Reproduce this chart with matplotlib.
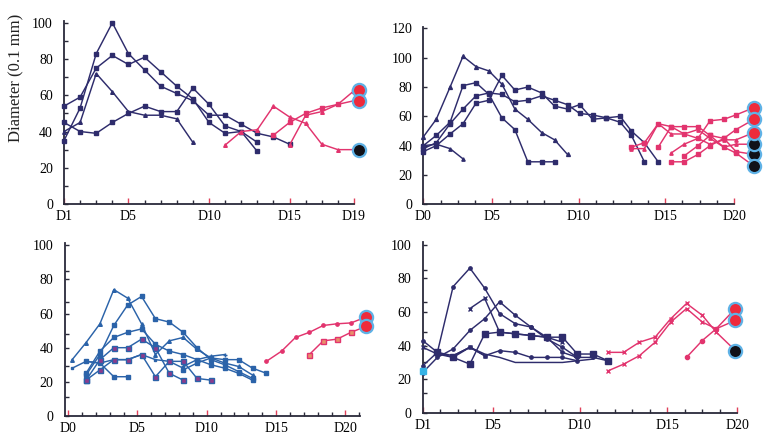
import matplotlib
matplotlib.use("Agg")
import matplotlib.pyplot as plt
from matplotlib.ticker import FixedLocator

plt.rcParams['font.family'] = ['Liberation Serif', 'DejaVu Serif']

NAVY = '#2e2c6c'
BLUE = '#2b63a9'
PINK = '#e2346e'
PURPLE = '#8c3b8c'
REDDOT = '#ee2a3c'
BLACKDOT = '#111118'
RING = '#5fb2e6'
CYAN = '#35b3e6'
AXC = '#2a2a3a'

# ---------------- panel 1 (top left) : x = day, D1..D19
p1_days = [1, 2, 3, 4, 5, 6, 7, 8, 9, 10, 11, 12, 13, 14, 15]
p1_sq = [35, 53, 83, 100, 83, 74, 65, 61, 57, 49, 49, 44, 39, 37, 33]
p1_82 = [54, 59, 75, 82, 77, 81, 73, 65, 58, 45, 39, 40, 29]
p1_72 = [40, 45, 72, 62, 51, 49, 49, 47, 34]
p1_low = [45, 40, 39, 45, 50, 54, 51, 51, 64, 55, 43, 40, 34]
p1_r1_days = [11, 12, 13, 14, 15, 16, 17, 18, 19]
p1_r1 = [32.5, 40, 41, 54, 48, 44.5, 33, 30, 30]
p1_r2_days = [14, 15, 16, 17, 18, 19]
p1_r2 = [38, 45, 50, 53, 55, 62.5]
p1_r3_days = [15, 16, 17, 18, 19]
p1_r3 = [32.5, 49, 51, 55, 57]
p1_dot_x = 19.3
p1_dots = [63, 57, 30]
p1_dot_col = [REDDOT, REDDOT, BLACKDOT]

# ---------------- panel 2 (top right) : x = axis tick units
p2_x = [0, 0.75, 1.55, 2.3, 3.05, 3.8, 4.55, 5.3, 6.05, 6.85, 7.6, 8.35,
        9.05, 9.8, 10.6, 11.4, 12.05, 12.8, 13.6]
p2_n1 = [46, 58, 80, 101, 94, 91, 82, 65, 58, 49, 44, 34]
p2_n2 = [40, 47, 56, 81, 83, 75, 59, 51, 29, 29, 29]
p2_n3 = [36, 40, 48, 55, 69, 71, 88, 78, 80, 76, 67, 65, 68, 58, 59, 56, 47, 29]
p2_n4 = [38, 42, 55, 65, 74, 76, 75, 70, 71, 74, 71, 68, 62, 61, 59, 60, 50, 42, 29]
p2_n5 = [40, 41, 38, 31]
p2_rx = [12.05, 12.8, 13.6, 14.35, 15.1, 15.9, 16.6, 17.4, 18.1]
p2_dot_x = 19.15
p2_r1 = [39, 42, 55, 53, 53, 53, 47, 45, 36]
p2_r2 = [38, 38, 55, 48, 48, 51, 45, 39, 41]
p2_r3 = [39, 53, 48, 45, 57, 58, 61]
p2_r4 = [29, 29, 34, 40, 45, 51]
p2_r5 = [35, 41, 45, 41, 44, 44]
p2_r6 = [33, 40, 47, 39, 35]
p2_dots = [34, 41, 66, 58, 49, 26]
p2_dot_col = [BLACKDOT, BLACKDOT, REDDOT, REDDOT, REDDOT, BLACKDOT]

# ---------------- panel 3 (bottom left) : x = day, D0..D20
p3_x = [0.3, 1.3, 2.3, 3.3, 4.3, 5.3, 6.3, 7.3, 8.3, 9.3, 10.3, 11.3, 12.3, 13.3, 14.3]
p3_b1 = [33, 43, 54, 74, 69, 54, 36, 44, 46, 39, 34, 31, 29, 24]
p3_b2 = [24, 36, 53, 65, 70, 57, 55, 49, 40, 33, 30, 26, 22]
p3_b3 = [25, 38, 46, 49, 51, 42, 38, 36, 33, 30, 28, 25, 21]
p3_b4 = [28, 32, 31, 33, 33, 36, 33, 32, 28]
p3_b5 = [32, 31, 23, 23]
p3_b6 = [27, 31, 34, 33, 33, 28, 25]
p3_b7 = [29, 33, 35, 36]
p3_sq1 = [21, 27, 33, 33, 36, 23, 32, 32, 22, 21]
p3_sq2 = [21, 33, 40, 40, 45, 40, 25, 21]
p3_rx = [14.3, 15.4, 16.4, 17.4, 18.4, 19.4, 20.4]
p3_ra = [32, 38, 46, 49, 53, 54, 54.5]
p3_rb = [36, 44, 45, 49]
p3_dot_x = 21.5
p3_dots = [58, 52.5]

# ---------------- panel 4 (bottom right) : x = axis tick units
p4_x = [0, 0.84, 1.74, 2.7, 3.55, 4.4, 5.3, 6.2, 7.1, 8.0, 8.85, 9.75, 10.6]
p4_a = [28, 36, 75, 86, 74, 59, 53, 51, 45, 36, 33]
p4_b = [24, 33, 38, 49, 56, 66, 58, 51, 44, 39, 33, 33, 31]
p4_c = [62, 68, 48, 47, 46, 45, 42]
p4_d = [36, 33, 29, 47, 48, 47, 46, 45, 45, 35, 35, 31]
p4_e = [43, 36, 34, 39, 34, 37, 36, 33, 33, 33, 31]
p4_f = [34, 39, 35, 33, 30, 30, 30, 30, 31, 32]
p4_g = [39, 35, 33, 39, 34]
p4_first = 25
p4_rx = [10.6, 11.5, 12.4, 13.3, 14.2, 15.1, 16.0, 16.8]
p4_r1 = [36, 36, 42, 45, 56, 65, 58, 48]
p4_r2 = [25, 29, 34, 42, 54, 62, 54, 50]
p4_r3 = [33, 43, 50]
p4_dot_x = 17.9
p4_dots = [37, 62, 55]
p4_dot_col = [BLACKDOT, REDDOT, REDDOT]


W, H = 763, 440
fig = plt.figure(figsize=(W / 100, H / 100), dpi=100)


def box(x0, x1, ybase, ytop):
    return [x0 / W, 1 - ybase / H, (x1 - x0) / W, (ybase - ytop) / H]


def style(ax, xlim, ylim, xlab_pos, xlabs, xminor, yticks, yminor=()):
    ax.set_xlim(*xlim)
    ax.set_ylim(*ylim)
    for s in ['top', 'right']:
        ax.spines[s].set_visible(False)
    for s in ['left', 'bottom']:
        ax.spines[s].set_color(AXC)
        ax.spines[s].set_linewidth(1.3)
    ax.xaxis.set_major_locator(FixedLocator(xlab_pos))
    ax.set_xticklabels(xlabs)
    ax.xaxis.set_minor_locator(FixedLocator(xminor))
    ax.tick_params(axis='x', which='major', direction='in', length=4,
                   width=1, color='#e0405a', labelsize=10, pad=4)
    ax.tick_params(axis='x', which='minor', direction='in', length=3,
                   width=1, color=AXC)
    ax.set_yticks(yticks)
    ax.yaxis.set_minor_locator(FixedLocator(list(yminor)))
    ax.tick_params(axis='y', which='both', direction='in', length=3,
                   width=1, color=AXC, labelsize=10, pad=8)
    ax.patch.set_alpha(0)


def line(ax, x, y, color, marker='s', ms=2.6, mfc=None, mec=None, lw=1.05):
    ax.plot(x, y, color=color, lw=lw, marker=marker, ms=ms,
            mfc=mfc or color, mec=mec or color, clip_on=False, zorder=3)


def dots(ax, x, ys, cols):
    for v, c in zip(ys, cols):
        ax.plot([x], [v], 'o', ms=9.5, mfc=c, mec=RING, mew=1.6,
                clip_on=False, zorder=5)


# panel 1
ax1 = fig.add_axes(box(64, 354, 204, 21))
style(ax1, (1, 19), (0, 101), [1, 5, 10, 15, 19], ['D1', 'D5', 'D10', 'D15', 'D19'],
      [d for d in range(2, 19) if d not in (5, 10, 15)],
      [0, 20, 40, 60, 80, 100], [10, 30, 50, 70, 90])
line(ax1, p1_days, p1_sq, NAVY, 's', 3)
line(ax1, p1_days[:13], p1_82, NAVY, 's', 2.4)
line(ax1, p1_days[:9], p1_72, NAVY, '^', 2.6)
line(ax1, p1_days[:13], p1_low, NAVY, 's', 2.4)
line(ax1, p1_r1_days, p1_r1, PINK, '^', 2.6)
line(ax1, p1_r2_days, p1_r2, PINK, 's', 2.4)
line(ax1, p1_r3_days, p1_r3, PINK, '^', 2.6)
dots(ax1, p1_dot_x, p1_dots, p1_dot_col)

# panel 2
ax2 = fig.add_axes(box(423.3, 734.2, 204.3, 27))
style(ax2, (0, 18), (0, 121), [0, 4, 9, 14, 18], ['D0', 'D5', 'D10', 'D15', 'D20'],
      [t for t in range(1, 18) if t not in (4, 9, 14)],
      [0, 20, 40, 60, 80, 100, 120])
line(ax2, p2_x[:12], p2_n1, NAVY, '^', 2.8)
line(ax2, p2_x[:11], p2_n2, NAVY, 's', 3.2)
line(ax2, p2_x[:18], p2_n3, NAVY, 's', 2.2)
line(ax2, p2_x, p2_n4, NAVY, 's', 2.2)
line(ax2, p2_x[:4], p2_n5, NAVY, '^', 2.4)
line(ax2, p2_rx + [p2_dot_x], p2_r1 + [p2_dots[0]], PINK, 's', 2.4)
line(ax2, p2_rx + [p2_dot_x], p2_r2 + [p2_dots[1]], PINK, '^', 2.4)
line(ax2, p2_rx[2:] + [p2_dot_x], p2_r3 + [p2_dots[2]], PINK, 's', 2.4)
line(ax2, p2_rx[3:] + [p2_dot_x], p2_r4 + [p2_dots[3]], PINK, 's', 2.4)
line(ax2, p2_rx[3:] + [p2_dot_x], p2_r5 + [p2_dots[4]], PINK, '^', 2.4)
line(ax2, p2_rx[4:] + [p2_dot_x], p2_r6 + [p2_dots[5]], PINK, 's', 2.4)
dots(ax2, p2_dot_x, p2_dots, p2_dot_col)

# panel 3
ax3 = fig.add_axes(box(64.7, 360, 416, 243))
style(ax3, (-0.24, 21.05), (0, 101.3), [0, 5, 10, 15, 20], ['D0', 'D5', 'D10', 'D15', 'D20'],
      [d for d in range(1, 22) if d not in (5, 10, 15, 20)],
      [0, 20, 40, 60, 80, 100], [11, 29, 48, 67, 85])
line(ax3, p3_x[:14], p3_b1, BLUE, '^', 2.6)
line(ax3, p3_x[1:14], p3_b2, BLUE, 's', 2.4)
line(ax3, p3_x[1:14], p3_b3, BLUE, 's', 2.4)
line(ax3, p3_x[:9], p3_b4, BLUE, 's', 2.0)
line(ax3, p3_x[1:5], p3_b5, BLUE, 's', 2.4)
line(ax3, p3_x[8:15], p3_b6, BLUE, 's', 3.4)
line(ax3, p3_x[8:12], p3_b7, BLUE, '+', 3)
line(ax3, p3_x[1:11], p3_sq1, BLUE, 's', 3.6, mfc=PURPLE, mec=BLUE)
line(ax3, p3_x[1:9], p3_sq2, BLUE, 's', 3.6, mfc=PURPLE, mec=BLUE)
line(ax3, p3_rx + [p3_dot_x], p3_ra + [p3_dots[0]], PINK, 'o', 2.4)
line(ax3, p3_rx[3:] + [p3_dot_x], p3_rb + [p3_dots[1]], PINK, 's', 3.6,
     mfc='#e8906a', mec=PINK)
dots(ax3, p3_dot_x, p3_dots, [REDDOT, REDDOT])

# panel 4
ax4 = fig.add_axes(box(422.7, 737.2, 413, 242.5))
style(ax4, (0, 18), (0, 101.2), [0, 4, 9, 14, 18], ['D1', 'D5', 'D10', 'D15', 'D20'],
      [t for t in range(1, 18) if t not in (4, 9, 14)],
      [0, 20, 40, 60, 80, 100], [12, 30, 48, 66, 85])
line(ax4, p4_x[:11], p4_a, NAVY, 'o', 2.4)
line(ax4, p4_x, p4_b, NAVY, 'o', 2.4)
line(ax4, p4_x[3:10], p4_c, NAVY, 'x', 3)
line(ax4, p4_x[1:], p4_d, NAVY, 's', 4)
line(ax4, p4_x[:11], p4_e, NAVY, 'o', 2.4)
line(ax4, p4_x[2:12], p4_f, NAVY, None, 2)
line(ax4, p4_x[:5], p4_g, NAVY, 'x', 3)
ax4.plot([p4_x[0]], [p4_first], 's', ms=4, color=CYAN, clip_on=False, zorder=4)
line(ax4, p4_rx + [p4_dot_x], p4_r1 + [p4_dots[0]], PINK, 'x', 3)
line(ax4, p4_rx + [p4_dot_x], p4_r2 + [p4_dots[1]], PINK, 'x', 3)
line(ax4, p4_rx[5:] + [p4_dot_x], p4_r3 + [p4_dots[2]], PINK, 'o', 3)
dots(ax4, p4_dot_x, p4_dots, p4_dot_col)

fig.text(16 / W, 1 - 78 / H, 'Diameter (0.1 mm)', rotation=90, ha='center',
         va='center', fontsize=12, color='#222222')

fig.savefig('out.png', dpi=100)
